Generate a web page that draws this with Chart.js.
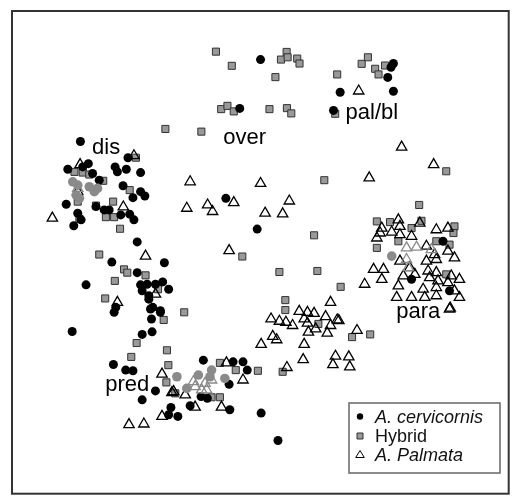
<!DOCTYPE html>
<html>
<head>
<meta charset="utf-8">
<script src="https://cdn.jsdelivr.net/npm/chart.js@4"></script>
<style>
  html, body { margin: 0; padding: 0; background: #fff; }
  #wrap { width: 516px; height: 501px; }
</style>
</head>
<body>
<div id="wrap"><canvas id="ordination"></canvas></div>
<script>
// ordination scores (axis 1 left->right, axis 2 top->bottom)
const cervicornis = [
  [262.7,60],[343,93],[241.7,109.3],[336.3,111.3],[396.7,64],[394.3,67.7],[391,78],[396.7,92],
  [81,142.7],[129,159],[68.3,170.7],[89,165],[83.3,168.3],[93.3,175],[100,181.7],[116,168.3],
  [118.3,173.3],[127.3,170.7],[141.7,174],[124,187.3],[134,199.3],[141.7,193.3],[146,197.7],
  [66.7,206],[78.3,215],[81.7,221.7],[74.3,227.7],[96.7,208.3],[105,211.7],[110,211.7],
  [121.7,216.7],[130.7,216],[135,221.7],
  [138.3,244],[112.7,264.3],[165.7,265],[138.3,275],[86.7,287.3],[141.7,287.3],[148.3,286.7],
  [156.7,286.7],[164,284.3],[170,291.7],[143.3,293.3],[150,298.3],[116.7,310],[154,310],
  [161.7,313.3],[115,315],[150,301.7],[151.7,311.7],[161.7,315],[152.7,321.7],[72.7,334.3],
  [143.3,337.3],[153.3,334.7],[114.3,367.7],[126.7,373.3],[134,374],[156.7,394.3],[143.3,403.3],
  [172.3,411],[170,418.3],[179.3,420],[191.7,409.3],
  [205,363.3],[235,365],[245,365],[249.3,373.3],[231,387.7],[202.7,400],[209,401.7],
  [231.7,413.3],[263.3,416.7],[280.3,444.3],
  [227.7,200],[259.3,231],
  [446.7,243.3],[415,281.7],[453.3,293.3]
];
const hybrid = [
  [217.7,52],[233.7,66.3],[289,52.3],[283.3,60],[290,57.7],[299.7,59],[302,64],[277.7,77.7],
  [340,75],[223,110],[229.3,106.7],[235.7,112.3],[271.7,110],[289.3,109],[293.7,114.3],
  [338,114.7],[203,132.7],[364.7,64.3],[371,57.7],[378.3,69.3],[381.7,75],[388.3,66],
  [166.7,130],[450,172.7],[327,181.7],[316.7,237.3],
  [137,159],[75,173.3],[83.3,174],[90,176],[104,182.3],[130.7,191.7],[78.3,203.3],[80,220.7],
  [96.7,207.3],[114,203.3],[106.7,219],[115,219],[121,230.7],
  [100,256.7],[125,271.7],[128.3,275],[146.7,277.7],[115.7,283.3],[159.3,291.7],[106,301],
  [165,322.7],[137.7,346],[168.3,353.3],[132.3,360],[169.7,368.3],[167.7,385.7],[176.7,396.7],
  [185.7,315],
  [221.7,366],[237.7,373.3],[260,374],[213.3,400.7],[221.7,400.7],
  [244.3,258.7],[281.7,274.3],[320,273.3],[343.5,289.3],[287.7,302.7],[287.7,312.7],
  [321,326.7],[285,375],[422.7,206.7],[355,340],[373.3,337.3],
  [380,223.3],[393.3,224],[425,222.7],[415,230],[458.3,228.3],[457.3,235],[401.7,243.3],
  [380,250],[440,243.3],[453.3,246.7],[450,276.7]
];
const palmata = [
  [135,157],[80.7,166],[361.7,91.7],[405,148.3],[437.3,166],[372.3,179.3],
  [78.3,193.3],[52.7,220],[124.3,208.7],[146.7,258.3],[156.7,296.7],[118.3,305],
  [191.7,183.3],[262.7,185],[188.3,210],[209.3,206.7],[214.3,213.3],[235.7,204.3],
  [291.7,202.7],[267.3,215],[285,215.7],[231,252.7],
  [333.3,305],[301.7,314],[310,315],[316.7,316],[273.3,321.7],[281.7,324],[288.3,325],
  [295,328.3],[306.7,321.7],[310,326],[328.3,319.3],[340,322.7],[333.3,328.3],[318.3,331.7],
  [311,335],[330,336],[275,339.3],[279,342.7],[263.3,347.3],[306.7,347.3],[305.7,362.7],
  [338.3,359.3],[335.7,367.7],[289.3,370.7],[341.7,323.3],[360,333.3],[351.7,360],
  [352.7,370],[453.3,311.7],
  [163.3,377.3],[173.3,396],[163.3,420],[130,428.3],[145,427.7],[175,395],[186.7,398.3],
  [196.7,410.7],[223.3,410.7],[228.3,366],[245,383.3],
  [401.7,221.7],[403.3,228.3],[423.3,225],[385,230],[395,234],[383.3,235],[380,240],
  [403.3,236.7],[440,231.7],[451.7,230],[415,238.3],[430,248.3],[438.3,256.7],[451.7,253.3],
  [458.3,260],[403.3,263.3],[430,263.3],[440,261.7],[376.7,271.7],[386.7,271.7],[413.3,270],
  [431.7,273.3],[440,275],[455,278.3],[385,281.7],[406.7,278.3],[418.3,276.7],[433.3,280],
  [441.7,283.3],[463.3,281.7],[401.7,288.3],[426.7,291.7],[440,290],[451.7,285],[400,300],
  [415,300],[428.3,300],[440,298.3],[458.3,293.3],[463.3,300],[367.7,286.7],[454,310.7]
];
// grey group-mean markers overlaid on the clusters
const groupMeanCirc = [
  [73.3,183.3],[78.3,186.7],[90,188.3],[95,193.3],[98.3,190],[76.7,196.7],[80,200],
  [178.3,380],[188.3,391.7],[200,378.3],[213.3,373.3],[211.7,380],[226.7,381.7],
  [395,258.3]
];
const groupMeanTri = [
  [195,385],[196.7,390],[206.7,386.7],[213.3,383.3],[203.3,393.3],[208.3,393.3],
  [410,250],[420,249.3],[435,251.7],[410,261.7],[411.7,270],[78.3,190]
];
const groupNames = ['dis', 'over', 'pal/bl', 'para', 'pred'];
const groupLabelX = [107, 246.7, 375, 421.7, 128.3];
const groupLabelY = [149, 139, 114, 315, 388.3];
const legendNames = ['A. cervicornis', 'Hybrid', 'A. Palmata'];

const toXY = arr => arr.map(p => ({ x: p[0], y: p[1] }));

// frame + group names + legend
const annotate = {
  id: 'annotate',
  afterDraw(chart) {
    const ctx = chart.ctx;
    const a = chart.chartArea;
    const sx = chart.scales.x, sy = chart.scales.y;
    ctx.save();
    ctx.strokeStyle = '#333';
    ctx.lineWidth = 2;
    ctx.strokeRect(a.left, a.top, a.right - a.left, a.bottom - a.top);

    ctx.fillStyle = '#000';
    ctx.font = '22px "Liberation Sans", Arial, sans-serif';
    ctx.textAlign = 'center';
    ctx.textBaseline = 'middle';
    groupNames.forEach((n, i) => {
      ctx.fillText(n, sx.getPixelForValue(groupLabelX[i]), sy.getPixelForValue(groupLabelY[i]));
    });

    // legend box
    const bx = 349, by = 403, bw = 151, bh = 70;
    ctx.strokeStyle = '#666';
    ctx.lineWidth = 1.5;
    ctx.strokeRect(bx, by, bw, bh);
    ctx.textAlign = 'left';
    const rows = [416.5, 436, 454.5];
    rows.forEach((ry, i) => {
      const mx = 360;
      ctx.beginPath();
      if (i === 0) {
        ctx.fillStyle = '#000';
        ctx.arc(mx, ry, 3.2, 0, Math.PI * 2);
        ctx.fill();
      } else if (i === 1) {
        ctx.fillStyle = '#999';
        ctx.strokeStyle = '#333';
        ctx.lineWidth = 1;
        ctx.rect(mx - 3, ry - 3, 6, 6);
        ctx.fill();
        ctx.stroke();
      } else {
        ctx.strokeStyle = '#000';
        ctx.lineWidth = 1;
        ctx.moveTo(mx, ry - 4);
        ctx.lineTo(mx + 4.3, ry + 3);
        ctx.lineTo(mx - 4.3, ry + 3);
        ctx.closePath();
        ctx.stroke();
      }
      ctx.fillStyle = '#111';
      ctx.font = (i === 1 ? '' : 'italic ') + '18px "Liberation Sans", Arial, sans-serif';
      ctx.fillText(legendNames[i], 375, ry + 1);
    });
    ctx.restore();
  }
};

new Chart(document.getElementById('ordination'), {
  type: 'scatter',
  data: {
    datasets: [
      {
        label: 'grey means (circles)',
        data: toXY(groupMeanCirc),
        pointStyle: 'circle',
        pointRadius: 4.8,
        backgroundColor: '#8a8a8a',
        borderWidth: 0,
        order: 0
      },
      {
        label: 'grey means (triangles)',
        data: toXY(groupMeanTri),
        pointStyle: 'triangle',
        pointRadius: 6,
        backgroundColor: 'rgba(0,0,0,0)',
        borderColor: '#8a8a8a',
        borderWidth: 1.3,
        order: 1
      },
      {
        label: legendNames[2],
        data: toXY(palmata),
        pointStyle: 'triangle',
        pointRadius: 6,
        backgroundColor: 'rgba(0,0,0,0)',
        borderColor: '#000',
        borderWidth: 1.3,
        order: 2
      },
      {
        label: legendNames[0],
        data: toXY(cervicornis),
        pointStyle: 'circle',
        pointRadius: 4.5,
        backgroundColor: '#000',
        borderWidth: 0,
        order: 3
      },
      {
        label: legendNames[1],
        data: toXY(hybrid),
        pointStyle: 'rect',
        pointRadius: 5,
        backgroundColor: '#999',
        borderColor: '#333',
        borderWidth: 1,
        order: 4
      }
    ]
  },
  options: {
    responsive: true,
    maintainAspectRatio: false,
    animation: false,
    events: [],
    layout: { padding: { left: 12, top: 11, right: 3, bottom: 3 } },
    scales: {
      x: { type: 'linear', min: 12, max: 513, display: false },
      y: { type: 'linear', min: 11, max: 498, reverse: true, display: false }
    },
    plugins: {
      legend: { display: false },
      tooltip: { enabled: false }
    }
  },
  plugins: [annotate]
});
</script>
</body>
</html>
